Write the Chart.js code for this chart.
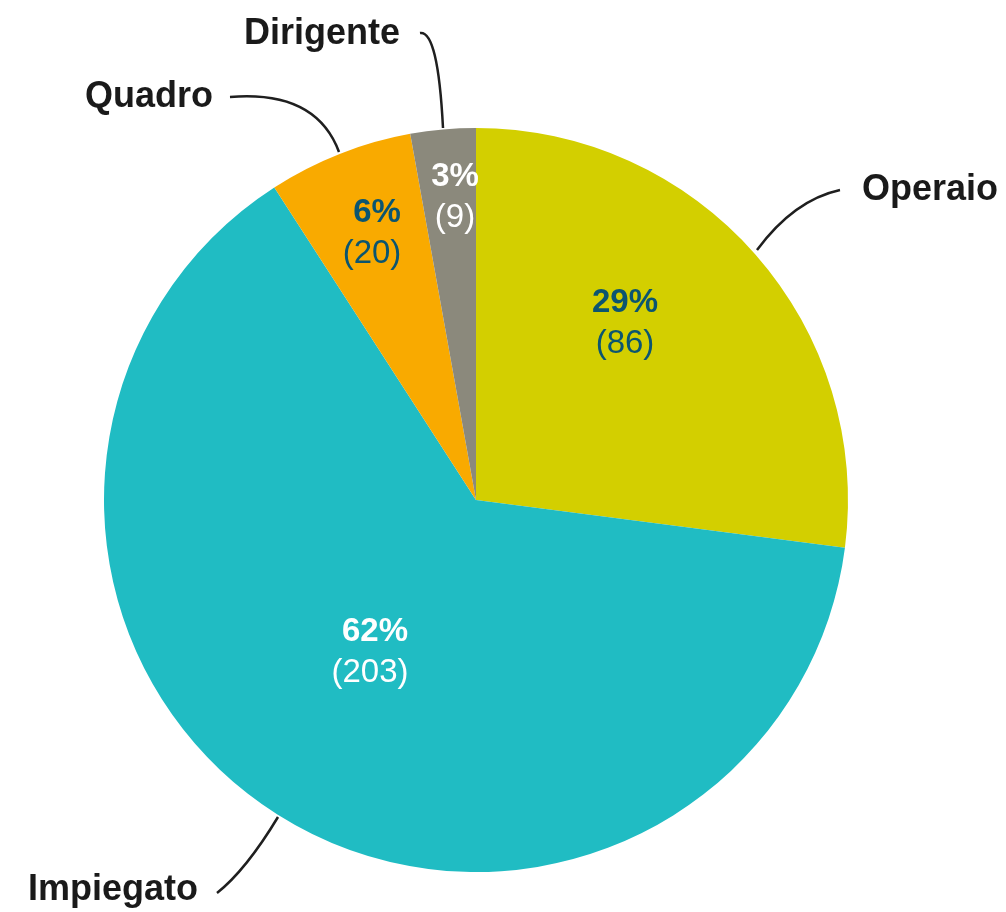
<!DOCTYPE html>
<html>
<head>
<meta charset="utf-8">
<script src="https://cdn.jsdelivr.net/npm/chart.js@4"></script>
<style>
  html, body { margin: 0; padding: 0; background: #ffffff; }
  #wrap { width: 1006px; height: 912px; }
</style>
</head>
<body>
<div id="wrap"><canvas id="pieChart" width="1006" height="912"></canvas></div>
<script>
// Data
const categories = ['Operaio', 'Impiegato', 'Quadro', 'Dirigente'];
const counts = [86, 203, 20, 9];
const pctLabels = ['29%', '62%', '6%', '3%'];
const sliceColors = ['#D3CF00', '#20BCC3', '#F9AA00', '#8B897C'];
const innerTextColors = ['#0B5570', '#FFFFFF', '#0B5570', '#FFFFFF'];

// Label layout, offsets from the pie centre in px
const innerPos = [
    { x: 149, y: -197 },  // Operaio
    { x: -101, y: 132 },  // Impiegato
    { x: -99, y: -287 },  // Quadro
    { x: -21, y: -323 }   // Dirigente
];
const outerLabels = [
    { text: 'Operaio',   x: 386, y: -310, align: 'left',
      path: [[281, -250], [318, -300], [364, -310]] },
    { text: 'Impiegato', x: -448, y: 390, align: 'left',
      path: [[-198, 317], [-230, 370], [-259, 393]] },
    { text: 'Quadro',    x: -391, y: -403, align: 'left',
      path: [[-137, -348], [-160, -410], [-246, -403]] },
    { text: 'Dirigente', x: -76, y: -466, align: 'right',
      path: [[-33, -372], [-38, -470], [-56, -467]] }
];

// Draws the value labels and leader lines
const labelPlugin = {
    id: 'pieLabels',
    afterDatasetsDraw(chart) {
        const ctx = chart.ctx;
        const arcs = chart.getDatasetMeta(0).data;
        const cx = arcs[0].x;
        const cy = arcs[0].y;
        ctx.save();
        // inner labels
        ctx.textAlign = 'center';
        ctx.textBaseline = 'middle';
        arcs.forEach((arc, i) => {
            const p = innerPos[i];
            ctx.fillStyle = innerTextColors[i];
            ctx.font = 'bold 33px "Liberation Sans", Arial, sans-serif';
            ctx.fillText(pctLabels[i], cx + p.x, cy + p.y);
            ctx.font = '33px "Liberation Sans", Arial, sans-serif';
            ctx.fillText('(' + counts[i] + ')', cx + p.x - (i === 0 || i === 3 ? 0 : 5), cy + p.y + 41);
        });
        // leader lines + outer labels
        outerLabels.forEach(lbl => {
            const pts = lbl.path;
            ctx.beginPath();
            ctx.strokeStyle = '#1f1f1f';
            ctx.lineWidth = 2.5;
            ctx.moveTo(cx + pts[0][0], cy + pts[0][1]);
            ctx.quadraticCurveTo(cx + pts[1][0], cy + pts[1][1], cx + pts[2][0], cy + pts[2][1]);
            ctx.stroke();
            ctx.fillStyle = '#1a1a1a';
            ctx.font = 'bold 36px "Liberation Sans", Arial, sans-serif';
            ctx.textAlign = lbl.align;
            ctx.textBaseline = 'middle';
            ctx.fillText(lbl.text, cx + lbl.x, cy + lbl.y);
        });
        ctx.restore();
    }
};

const ctx = document.getElementById('pieChart').getContext('2d');
const pieChart = new Chart(ctx, {
    type: 'pie',
    data: {
        labels: categories,
        datasets: [{
            data: counts,
            backgroundColor: sliceColors,
            borderWidth: 0
        }]
    },
    options: {
        responsive: false,
        animation: false,
        layout: {
            padding: { left: 104, top: 128, right: 158, bottom: 40 }
        },
        plugins: {
            legend: { display: false },
            tooltip: { enabled: false }
        }
    },
    plugins: [labelPlugin]
});
</script>
</body>
</html>
